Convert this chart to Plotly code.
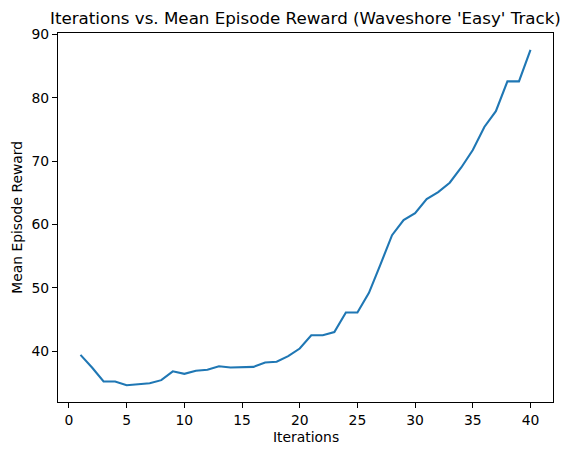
import plotly.graph_objects as go

iterations = list(range(1, 41))
mean_reward = [
    39.4, 37.4, 35.2, 35.2, 34.6, 34.7, 34.9, 35.4, 36.8, 36.4,
    36.9, 37.05, 37.6, 37.4, 37.4, 37.5, 38.2, 38.3, 39.2, 40.4,
    42.5, 42.5, 43.0, 46.1, 46.1, 49.2, 53.7, 58.3, 60.7, 61.8,
    64.0, 65.1, 66.6, 69.0, 71.75, 75.4, 77.9, 82.6, 82.6, 87.6,
]

FONT = "DejaVu Sans"
W, H = 569, 455
L, R, T, B = 57.7, 15.7, 32.7, 52.7
plot_w = W - L - R
plot_h = H - T - B

# matplotlib-style 5% autoscale margins
xpad = (max(iterations) - min(iterations)) * 0.05
ypad = (max(mean_reward) - min(mean_reward)) * 0.05

axis_style = dict(
    showgrid=False,
    zeroline=False,
    showline=True,
    linecolor="black",
    linewidth=1.1,
    mirror=True,
    ticks="outside",
    ticklen=5,
    tickwidth=1.1,
    tickcolor="black",
    tickfont=dict(family=FONT, size=13.9, color="black"),
)

fig = go.Figure()
fig.add_trace(
    go.Scatter(
        x=iterations,
        y=mean_reward,
        mode="lines",
        line=dict(color="#1f77b4", width=2.1),
        showlegend=False,
    )
)

fig.update_layout(
    width=W,
    height=H,
    margin=dict(l=L, r=R, t=T, b=B, pad=0),
    paper_bgcolor="white",
    plot_bgcolor="white",
    font=dict(family=FONT, color="black"),
    xaxis=dict(range=[min(iterations) - xpad, max(iterations) + xpad],
               tickmode="linear", tick0=0, dtick=5, **axis_style),
    yaxis=dict(range=[min(mean_reward) - ypad, max(mean_reward) + ypad],
               tickmode="linear", tick0=0, dtick=10, **axis_style),
    annotations=[
        dict(text="Iterations vs. Mean Episode Reward (Waveshore 'Easy' Track)",
             xref="paper", yref="paper", x=0.5, y=1 + 15.5 / plot_h,
             xanchor="center", yanchor="middle", showarrow=False,
             font=dict(family=FONT, size=16.7, color="black")),
        dict(text="Iterations",
             xref="paper", yref="paper", x=0.5, y=-34.7 / plot_h,
             xanchor="center", yanchor="middle", showarrow=False,
             font=dict(family=FONT, size=13.9, color="black")),
        dict(text="Mean Episode Reward",
             xref="paper", yref="paper", x=-41.7 / plot_w, y=0.5,
             xanchor="center", yanchor="middle", showarrow=False, textangle=-90,
             font=dict(family=FONT, size=13.9, color="black")),
    ],
)

# drop the browser's default 8px body margin so the figure sits at 0,0
fig.write_html(
    "out.html",
    config={"displayModeBar": False},
    post_script="document.body.style.margin = '0';",
)
